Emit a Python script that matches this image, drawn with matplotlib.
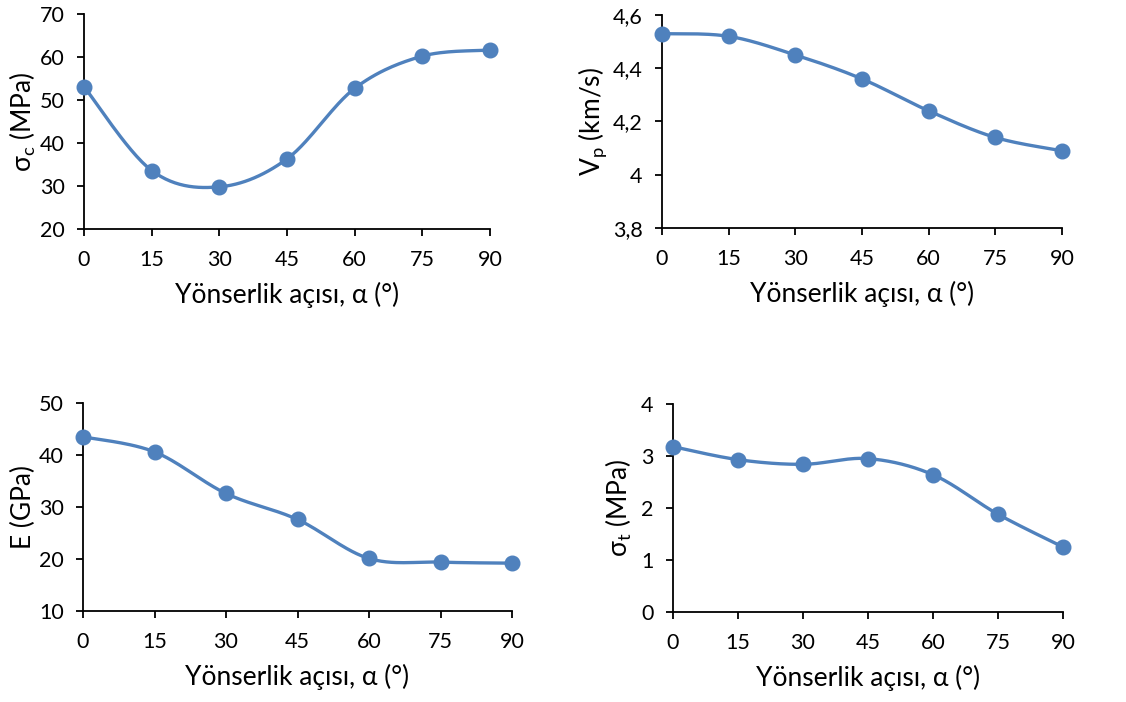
import numpy as np
import matplotlib
matplotlib.use("Agg")
import matplotlib.pyplot as plt
from matplotlib.ticker import FuncFormatter

plt.rcParams['font.family'] = ['Lato', 'DejaVu Sans']
plt.rcParams['mathtext.fontset'] = 'custom'
plt.rcParams['mathtext.rm'] = 'Lato'
plt.rcParams['mathtext.it'] = 'Lato:italic'

# data
angle = [0, 15, 30, 45, 60, 75, 90]
sigma_c = [53.1, 33.6, 29.8, 36.3, 52.7, 60.2, 61.6]
vp = [4.53, 4.52, 4.45, 4.36, 4.24, 4.14, 4.09]
e_mod = [43.5, 40.6, 32.6, 27.6, 20.1, 19.4, 19.2]
sigma_t = [3.18, 2.93, 2.84, 2.95, 2.64, 1.88, 1.25]

xlabel = 'Yönserlik açısı, α (°)'
blue = '#4F81BD'


def smooth(x, y, n=30):
    # excel style smoothed line (catmull-rom bezier)
    x = np.asarray(x, float)
    y = np.asarray(y, float)
    px = np.concatenate([[x[0]], x, [x[-1]]])
    py = np.concatenate([[y[0]], y, [y[-1]]])
    xs, ys = [], []
    t = np.linspace(0, 1, n)
    for i in range(1, len(px) - 2):
        p0 = np.array([px[i], py[i]])
        p3 = np.array([px[i + 1], py[i + 1]])
        c1 = p0 + (np.array([px[i + 1], py[i + 1]]) - np.array([px[i - 1], py[i - 1]])) / 6
        c2 = p3 - (np.array([px[i + 2], py[i + 2]]) - np.array([px[i], py[i]])) / 6
        b = ((1 - t) ** 3)[:, None] * p0 + (3 * (1 - t) ** 2 * t)[:, None] * c1 \
            + (3 * (1 - t) * t ** 2)[:, None] * c2 + (t ** 3)[:, None] * p3
        xs.extend(b[:, 0])
        ys.extend(b[:, 1])
    return xs, ys


def comma(v, pos):
    return ('%g' % v).replace('.', ',')


fig = plt.figure(figsize=(11.26, 7.02), dpi=100)
W, H = 1126, 702

panels = [
    ((84, 490, 14, 229), sigma_c, (20, 70), 10, r'$\mathregular{σ_c}$ (MPa)', 1),
    ((662, 1062, 15, 228), vp, (3.8, 4.6), 0.2, r'$\mathregular{V_p}$ (km/s)', 3),
    ((83, 512, 403, 611), e_mod, (10, 50), 10, 'E (GPa)', 2),
    ((673, 1063, 404, 612), sigma_t, (0, 4), 1, r'$\mathregular{σ_t}$ (MPa)', 5),
]

for (l, r, t, b), vals, ylim, step, ylab, lpad in panels:
    ax = fig.add_axes([l / W, 1 - b / H, (r - l) / W, (b - t) / H])
    sx, sy = smooth(angle, vals)
    ax.plot(sx, sy, color=blue, lw=2.4, zorder=2, clip_on=False)
    ax.plot(angle, vals, 'o', color=blue, ms=10.5, zorder=3, clip_on=False)
    ax.set_xlim(0, 90)
    ax.set_ylim(*ylim)
    ax.set_xticks(angle)
    ax.set_yticks(np.arange(ylim[0], ylim[1] + step / 2, step))
    ax.yaxis.set_major_formatter(FuncFormatter(comma))
    for s in ['top', 'right']:
        ax.spines[s].set_visible(False)
    for s in ['left', 'bottom']:
        ax.spines[s].set_linewidth(1.3)
        ax.spines[s].set_color('black')
    ax.tick_params(direction='out', length=5, width=1.3, labelsize=15.5, colors='black')
    ax.tick_params(axis='x', pad=10)
    ax.tick_params(axis='y', pad=9)
    ax.set_xlabel(xlabel, fontsize=19, labelpad=9)
    ax.set_ylabel(ylab, fontsize=19, labelpad=lpad)

fig.savefig('out.png', dpi=100)
